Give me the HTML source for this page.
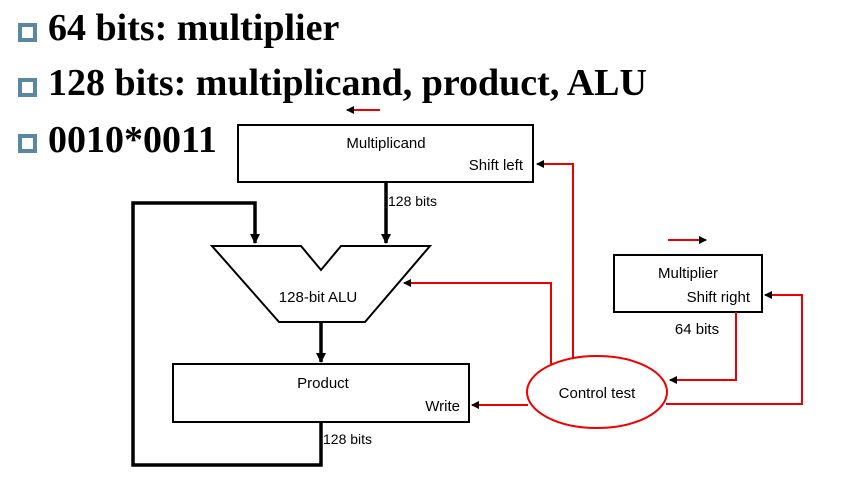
<!DOCTYPE html>
<html><head><style>
body{margin:0;width:842px;height:478px;background:#fff;overflow:hidden;position:relative}
.b{position:absolute;left:48px;font:bold 38px "Liberation Serif",serif;color:#000;white-space:nowrap}
.sq{position:absolute;left:18px;width:11px;height:11px;border:4.5px solid #5a88a2;background:#fff}
</style></head><body>
<div class="sq" style="top:23px"></div><div class="b" style="top:6px">64 bits: multiplier</div>
<div class="sq" style="top:78px"></div><div class="b" style="top:61px">128 bits: multiplicand, product, ALU</div>
<div class="sq" style="top:134px"></div><div class="b" style="top:118px">0010*0011</div>
<svg width="842" height="478" style="position:absolute;left:0;top:0" font-family="Liberation Sans, sans-serif" font-size="15">
<defs>
<marker id="a" markerWidth="8" markerHeight="8" refX="7" refY="4" orient="auto" markerUnits="userSpaceOnUse"><path d="M0,0 L8,4 L0,8 z" fill="#000"/></marker>
<marker id="k" markerWidth="12" markerHeight="12" refX="9" refY="5" orient="auto" markerUnits="userSpaceOnUse"><path d="M0,0 L10,5 L0,10 z" fill="#000"/></marker>
</defs>
<rect x="238" y="125" width="295" height="57" fill="#fff" stroke="#000" stroke-width="2"/>
<text x="386" y="148" text-anchor="middle">Multiplicand</text>
<text x="523" y="170" text-anchor="end">Shift left</text>
<line x1="380" y1="110" x2="347" y2="110" stroke="#e00" stroke-width="2" marker-end="url(#a)"/>
<line x1="668" y1="240" x2="706" y2="240" stroke="#e00" stroke-width="2" marker-end="url(#a)"/>
<g stroke="#000" stroke-width="3.5" fill="none">
<line x1="386" y1="182" x2="386" y2="243" marker-end="url(#k)"/>
<polyline points="321,422 321,465 133,465 133,203 255,203 255,243" marker-end="url(#k)"/>
<line x1="321" y1="322" x2="321" y2="362" marker-end="url(#k)"/>
</g>
<text x="388" y="206" font-size="14">128 bits</text>
<polygon points="212,246 301,246 321,270 341,246 430,246 365,322 279,322" fill="#fff" stroke="#000" stroke-width="2"/>
<text x="318" y="302" text-anchor="middle">128-bit ALU</text>
<rect x="173" y="364" width="296" height="58" fill="#fff" stroke="#000" stroke-width="2"/>
<text x="323" y="388" text-anchor="middle">Product</text>
<text x="460" y="411" text-anchor="end">Write</text>
<text x="323" y="444" font-size="14">128 bits</text>
<rect x="614" y="255" width="148" height="57" fill="#fff" stroke="#000" stroke-width="2"/>
<text x="688" y="278" text-anchor="middle">Multiplier</text>
<text x="750" y="302" text-anchor="end">Shift right</text>
<text x="697" y="334" text-anchor="middle">64 bits</text>
<g stroke="#e00" stroke-width="2" fill="none">
<polyline points="573,358 573,164 537,164" marker-end="url(#a)"/>
<polyline points="551,364 551,283 404,283" marker-end="url(#a)"/>
<polyline points="528,405 472,405" marker-end="url(#a)"/>
<polyline points="736,312 736,380 670,380" marker-end="url(#a)"/>
<polyline points="666,404 802,404 802,295 765,295" marker-end="url(#a)"/>
</g>
<ellipse cx="597" cy="392" rx="70" ry="36" fill="#fff" stroke="#e00" stroke-width="2"/>
<text x="597" y="398" text-anchor="middle">Control test</text>
</svg>
</body></html>
